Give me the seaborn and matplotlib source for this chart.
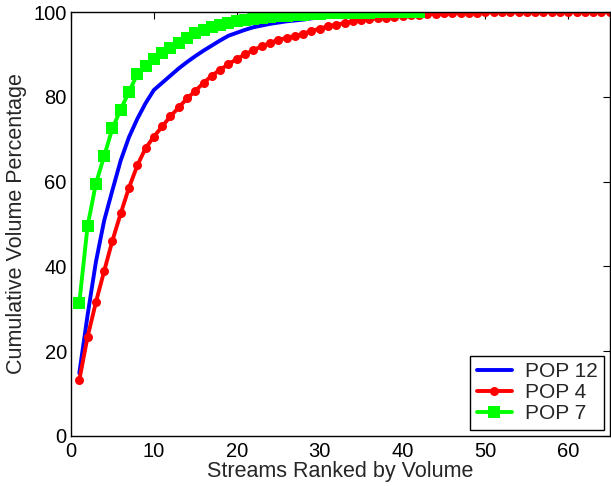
import numpy as np
import pandas as pd
import matplotlib
matplotlib.use("Agg")
import matplotlib.pyplot as plt
import seaborn as sns

# =====================================================
# Data
# =====================================================

pop12_vals = [14.8, 28.5, 41.0, 50.8, 58.0, 65.0, 70.5, 74.8, 78.5, 81.6,
              83.3, 85.0, 86.7, 88.2, 89.6, 90.9, 92.1, 93.3, 94.4, 95.1,
              95.8, 96.4, 96.8, 97.2, 97.5, 97.8, 98.0, 98.2, 98.5, 98.7,
              98.9, 99.1, 99.2, 99.35, 99.5, 99.6, 99.7, 99.75, 99.8, 99.85,
              99.9, 99.93, 99.95, 99.97, 100.0]

pop4_vals = [13.2, 23.4, 31.5, 38.9, 46.1, 52.5, 58.6, 63.8, 67.9, 70.6,
             73.0, 75.4, 77.5, 79.6, 81.4, 83.3, 85.0, 86.4, 87.7, 88.9,
             90.0, 91.0, 91.9, 92.7, 93.4, 93.9, 94.3, 94.9, 95.5, 96.1,
             96.6, 97.0, 97.4, 97.8, 98.1, 98.3, 98.5, 98.7, 98.9, 99.05,
             99.2, 99.35, 99.5, 99.6, 99.65, 99.7, 99.75, 99.8, 99.85, 99.9,
             99.9, 99.92, 99.93, 99.94, 99.95, 99.96, 99.97, 99.97, 99.98, 99.98,
             99.99, 99.99, 100.0, 100.0, 100.0]

pop7_vals = [31.4, 49.5, 59.5, 66.0, 72.6, 77.0, 81.2, 85.3, 87.3, 88.8,
             90.4, 91.6, 92.8, 93.9, 95.0, 95.7, 96.4, 97.0, 97.4, 97.8,
             98.1, 98.4, 98.6, 98.8, 99.0, 99.15, 99.3, 99.4, 99.5, 99.6,
             99.65, 99.7, 99.75, 99.8, 99.85, 99.88, 99.9, 99.93, 99.95, 99.97,
             99.99, 100.0]

series_names = ["POP 12", "POP 4", "POP 7"]
series_vals = [pop12_vals, pop4_vals, pop7_vals]

x_ticks = [0, 10, 20, 30, 40, 50, 60]
y_ticks = [0, 20, 40, 60, 80, 100]

# =====================================================
# Long table
# =====================================================

frames = []
for name, vals in zip(series_names, series_vals):
    frames.append(pd.DataFrame({
        "rank": np.arange(1, len(vals) + 1),
        "pct": vals,
        "series": name
    }))
df = pd.concat(frames, ignore_index=True)

# =====================================================
# Plot
# =====================================================

sns.set_style("white")
plt.rcParams["font.family"] = ["Liberation Sans", "DejaVu Sans"]

fig = plt.figure(figsize=(6.11, 4.86), dpi=100)
ax = fig.add_axes([0.1162, 0.1029, 0.8818, 0.8724])

styles = {
    "POP 12": dict(color="#0000ff", marker=None),
    "POP 4": dict(color="#ff0000", marker="o", markersize=6.5),
    "POP 7": dict(color="#00ff00", marker="s", markersize=8.5),
}

for name in series_names:
    sub = df[df["series"] == name]
    sns.lineplot(
        data=sub, x="rank", y="pct", ax=ax,
        label=name, linewidth=2.8,
        markeredgewidth=0,
        **styles[name]
    )

ax.set_xlim(0, 65)
ax.set_ylim(0, 100)
ax.set_xticks(x_ticks)
ax.set_yticks(y_ticks)

ax.tick_params(direction="in", top=True, right=True, length=5,
               width=0.8, labelsize=14.5, colors="black")
ax.tick_params(axis="x", pad=4)
ax.tick_params(axis="y", pad=3)
for s in ax.spines.values():
    s.set_color("black")
    s.set_linewidth(1.0)

ax.set_xlabel("Streams Ranked by Volume", fontsize=15.5, labelpad=0)
ax.set_ylabel("Cumulative Volume Percentage", fontsize=15.5, labelpad=5)

leg = ax.legend(loc="lower right", fontsize=15, fancybox=False,
                edgecolor="black", framealpha=1, borderaxespad=0.3,
                handlelength=1.7, handletextpad=0.6,
                labelspacing=0.1, borderpad=0.3)
leg.get_frame().set_linewidth(1.0)

fig.savefig("out.png", dpi=100)
